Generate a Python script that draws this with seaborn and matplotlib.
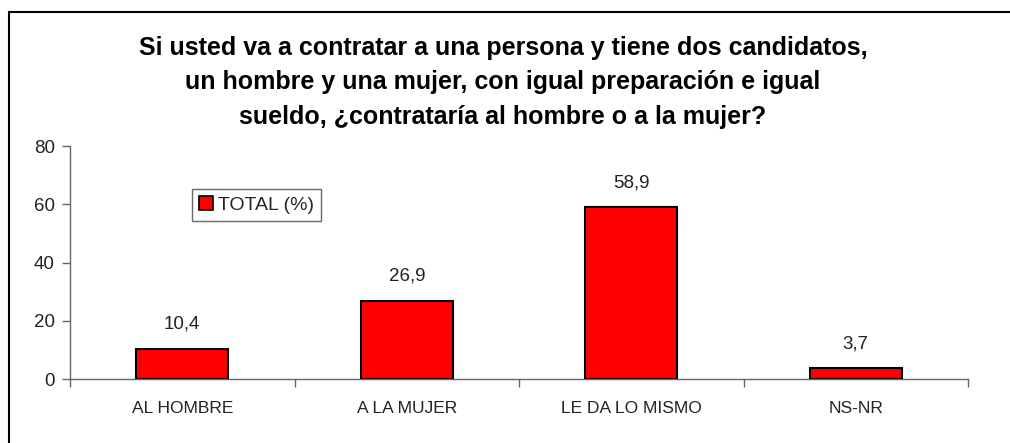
import matplotlib
matplotlib.use("Agg")
import matplotlib.pyplot as plt
import seaborn as sns
import pandas as pd
from matplotlib.patches import Rectangle, Patch

categories = ["AL HOMBRE", "A LA MUJER", "LE DA LO MISMO", "NS-NR"]
values = [10.4, 26.9, 58.9, 3.7]
series_name = "TOTAL (%)"
yticks = [0, 20, 40, 60, 80]
title = ("Si usted va a contratar a una persona y tiene dos candidatos,\n"
         "un hombre y una mujer, con igual preparación e igual\n"
         "sueldo, ¿contrataría al hombre o a la mujer?")

df = pd.DataFrame({"cat": categories, "val": values})

sns.set_theme(style="white")
plt.rcParams['font.family'] = ['Liberation Sans', 'DejaVu Sans']

fig = plt.figure(figsize=(10.1, 4.43), dpi=100)
ax = fig.add_axes([70/1010, 1-379/443, (968-70)/1010, (379-146)/443])

sns.barplot(data=df, x="cat", y="val", color="#ff0000", width=0.41,
            edgecolor="black", linewidth=1.5, saturation=1, ax=ax)

ax.set_ylim(0, 80)
ax.set_xlim(-0.5, len(categories)-0.5)
ax.set_yticks(yticks)
ax.set_yticklabels([str(v) for v in yticks], fontsize=13.5, color="#222222")
ax.set_xticks(range(len(categories)))
ax.set_xticklabels(categories, fontsize=12.5, color="#222222")
ax.tick_params(axis="x", which="major", length=0, pad=16)
ax.set_xticks([i - 0.5 for i in range(len(categories)+1)], minor=True)
ax.tick_params(axis="x", which="minor", length=6, width=1, color="#666666", bottom=True, direction="out")
ax.tick_params(axis="y", length=6, width=1, color="#666666", left=True, direction="out", pad=5)
ax.set_xlabel("")
ax.set_ylabel("")

for s in ["top", "right"]:
    ax.spines[s].set_visible(False)
for s in ["left", "bottom"]:
    ax.spines[s].set_color("#666666")
    ax.spines[s].set_linewidth(1)

for i, v in enumerate(values):
    ax.text(i, v + 5.5, f"{v:.1f}".replace(".", ","), ha="center", va="bottom",
            fontsize=13.5, color="#222222")

handle = Patch(facecolor="#ff0000", edgecolor="black", linewidth=1.2, label=series_name)
leg = ax.legend(handles=[handle], loc="upper left",
                bbox_to_anchor=(192/1010, 1-189/443), bbox_transform=fig.transFigure,
                fontsize=14, frameon=True, fancybox=False, handlelength=0.75,
                handleheight=0.75, handletextpad=0.25, borderpad=0.35, borderaxespad=0)
leg.get_frame().set_edgecolor("#444444")
leg.get_frame().set_linewidth(1)

fig.text(503/1010, 1-36/443, title, ha="center", va="top", fontsize=18,
         fontweight="bold", linespacing=1.55, color="black")

fig.patches.append(Rectangle((9/1010, -0.1), 1.2, 1-12/443+0.1, transform=fig.transFigure,
                             fill=False, edgecolor="black", linewidth=1.5))

fig.savefig("out.png", dpi=100)
